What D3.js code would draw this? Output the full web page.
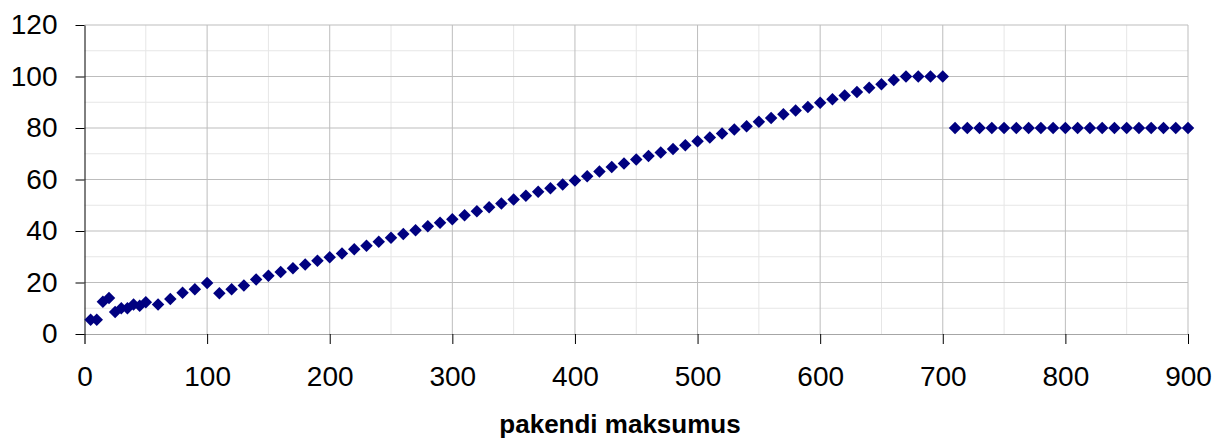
<!DOCTYPE html>
<html>
<head>
<meta charset="utf-8">
<script src="https://cdn.jsdelivr.net/npm/d3@7"></script>
<style>
  body { margin: 0; background: #fff; }
  text { font-family: "Liberation Sans", Arial, sans-serif; }
</style>
</head>
<body>
<div id="plt"></div>
<script>
// data
var xValues = [5, 10, 15, 20, 25, 30, 35, 40, 45, 50,
  60, 70, 80, 90, 100, 110, 120, 130, 140, 150,
  160, 170, 180, 190, 200, 210, 220, 230, 240, 250,
  260, 270, 280, 290, 300, 310, 320, 330, 340, 350,
  360, 370, 380, 390, 400, 410, 420, 430, 440, 450,
  460, 470, 480, 490, 500, 510, 520, 530, 540, 550,
  560, 570, 580, 590, 600, 610, 620, 630, 640, 650,
  660, 670, 680, 690, 700, 710, 720, 730, 740, 750,
  760, 770, 780, 790, 800, 810, 820, 830, 840, 850,
  860, 870, 880, 890, 900];
var yValues = [5.5, 5.5, 12.5, 14, 8.5, 10, 10, 11.5, 11, 12.3,
  11.5, 13.6, 16, 17.4, 19.8, 15.8, 17.4, 18.8, 21.2, 22.6,
  24.1, 25.5, 27, 28.4, 29.8, 31.3, 32.9, 34.3, 35.8, 37.4,
  38.8, 40.3, 41.8, 43.2, 44.6, 46.1, 47.7, 49.2, 50.7, 52.2,
  53.7, 55.2, 56.6, 58.1, 59.6, 61.3, 63.1, 64.9, 66.2, 67.8,
  69.1, 70.5, 71.8, 73.3, 74.9, 76.3, 77.9, 79.4, 80.7, 82.4,
  83.9, 85.3, 86.8, 88.2, 89.8, 91.2, 92.6, 94, 95.6, 97,
  98.6, 100, 100, 100, 100, 80, 80, 80, 80, 80,
  80, 80, 80, 80, 80, 80, 80, 80, 80, 80,
  80, 80, 80, 80, 80];
var xTicks = [0, 100, 200, 300, 400, 500, 600, 700, 800, 900];
var yTicks = [0, 20, 40, 60, 80, 100, 120];
var xMinor = [50, 150, 250, 350, 450, 550, 650, 750, 850];
var yMinor = [10, 30, 50, 70, 90, 110];
var xTitle = "pakendi maksumus";

var data = xValues.map(function(v, i) { return {x: v, y: yValues[i]}; });

var width = 1213;
var height = 441;

var svg = d3.select("#plt")
            .append("svg")
            .attr("width", width)
            .attr("height", height);

// scales
var x = d3.scaleLinear()
          .domain([0, 900])
          .range([84.5, 1188]);

var y = d3.scaleLinear()
          .domain([0, 120])
          .range([334, 25]);

// minor gridlines
svg.append("g")
   .selectAll("line")
   .data(xMinor)
   .enter()
   .append("line")
   .attr("x1", function(d) { return x(d); })
   .attr("x2", function(d) { return x(d); })
   .attr("y1", y(0))
   .attr("y2", y(120))
   .attr("stroke", "#e6e6e6");

svg.append("g")
   .selectAll("line")
   .data(yMinor)
   .enter()
   .append("line")
   .attr("x1", x(0))
   .attr("x2", x(900))
   .attr("y1", function(d) { return y(d); })
   .attr("y2", function(d) { return y(d); })
   .attr("stroke", "#e6e6e6");

// major gridlines
svg.append("g")
   .selectAll("line")
   .data(xTicks.slice(1))
   .enter()
   .append("line")
   .attr("x1", function(d) { return x(d); })
   .attr("x2", function(d) { return x(d); })
   .attr("y1", y(0))
   .attr("y2", y(120))
   .attr("stroke", "#bdbdbd");

svg.append("g")
   .selectAll("line")
   .data(yTicks.slice(1))
   .enter()
   .append("line")
   .attr("x1", x(0))
   .attr("x2", x(900))
   .attr("y1", function(d) { return y(d); })
   .attr("y2", function(d) { return y(d); })
   .attr("stroke", "#bdbdbd");

// x axis
var xAxis = svg.append("g")
   .attr("transform", "translate(0," + y(0) + ")")
   .call(d3.axisBottom(x).tickValues(xTicks).tickSize(10).tickPadding(22));
xAxis.select(".domain").attr("stroke", "#a6a6a6");
xAxis.selectAll(".tick line").attr("stroke", "#000");
xAxis.selectAll("text")
     .attr("fill", "#000")
     .style("font-size", "28px");

// y axis
var yAxis = svg.append("g")
   .attr("transform", "translate(" + x(0) + ",0)")
   .call(d3.axisLeft(y).tickValues(yTicks).tickSize(9).tickSizeOuter(0).tickPadding(18));
yAxis.select(".domain").attr("stroke", "#000");
yAxis.selectAll(".tick line").attr("stroke", "#000");
yAxis.selectAll("text")
     .attr("fill", "#000")
     .style("font-size", "28px");

// axis title
svg.append("text")
   .attr("x", 620)
   .attr("y", 433)
   .attr("text-anchor", "middle")
   .style("font-size", "26px")
   .style("font-weight", "bold")
   .text(xTitle);

// diamond markers
svg.append("g")
   .selectAll("path")
   .data(data)
   .enter()
   .append("path")
   .attr("d", d3.symbol(d3.symbolSquare, 78))
   .attr("transform", function(d) { return "translate(" + x(d.x) + "," + y(d.y) + ") rotate(45)"; })
   .attr("fill", "#000080");
</script>
</body>
</html>
